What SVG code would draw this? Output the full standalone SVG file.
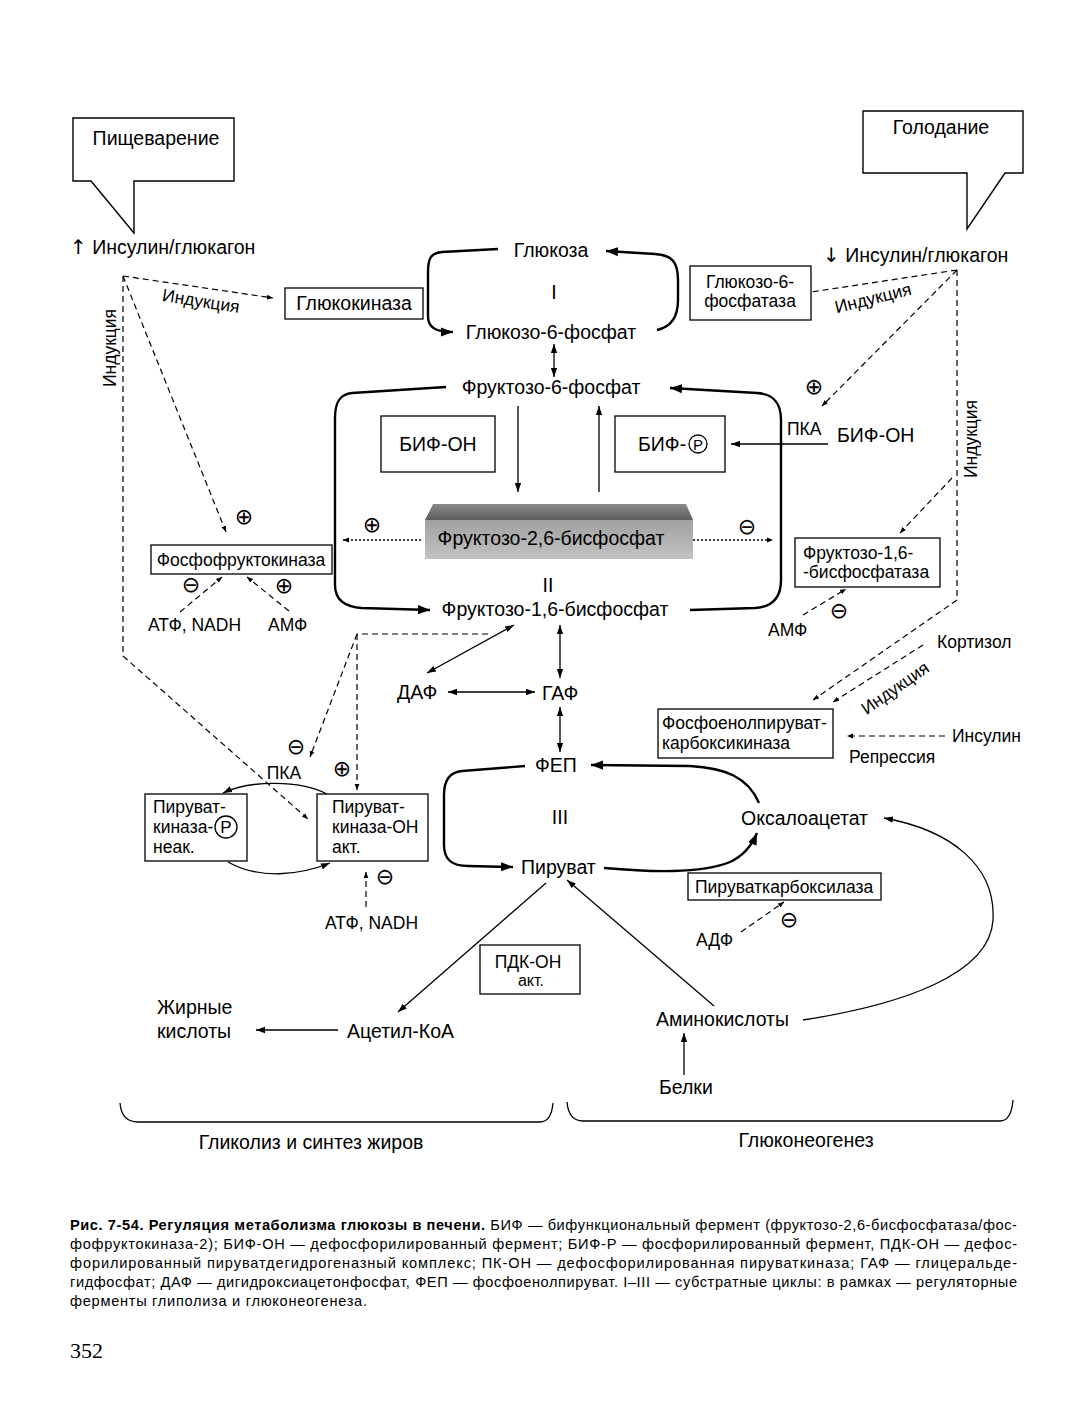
<svg xmlns="http://www.w3.org/2000/svg" width="1077" height="1421" viewBox="0 0 1077 1421">
<defs>
<style>
text{font-family:"Liberation Sans",Arial,"DejaVu Sans",sans-serif;fill:#000}
.m{font-size:19.5px}
.s{font-size:17.5px}
.c{font-size:14.6px}
.sym{font-family:"DejaVu Sans",sans-serif;font-size:22px;text-anchor:middle;dominant-baseline:central}
.mid{text-anchor:middle}
.box{fill:#fff;stroke:#000;stroke-width:1.3}
.call{fill:#fff;stroke:#000;stroke-width:1.4}
.thick{fill:none;stroke:#000;stroke-width:2.4}
.thin{fill:none;stroke:#000;stroke-width:1.3}
.dash{fill:none;stroke:#000;stroke-width:1.2;stroke-dasharray:6 4}
.dot{fill:none;stroke:#000;stroke-width:1.3;stroke-dasharray:2 2}
</style>
<marker id="ah" viewBox="0 0 10 10" refX="10" refY="5" markerWidth="9" markerHeight="9" markerUnits="userSpaceOnUse" orient="auto-start-reverse"><path d="M0,1.5 L10,5 L0,8.5 z"/></marker>
<marker id="at" viewBox="0 0 10 10" refX="10" refY="5" markerWidth="12" markerHeight="12" markerUnits="userSpaceOnUse" orient="auto-start-reverse"><path d="M0,1.2 L10,5 L0,8.8 z"/></marker>
<marker id="as" viewBox="0 0 10 10" refX="10" refY="5" markerWidth="6" markerHeight="6" markerUnits="userSpaceOnUse" orient="auto-start-reverse"><path d="M0,1 L10,5 L0,9 z"/></marker>
<linearGradient id="gtop" x1="0" y1="0" x2="0" y2="1"><stop offset="0" stop-color="#8a8a8a"/><stop offset="1" stop-color="#5e5e5e"/></linearGradient>
<linearGradient id="gbot" x1="0" y1="0" x2="0" y2="1"><stop offset="0" stop-color="#a0a0a0"/><stop offset="1" stop-color="#c2c2c2"/></linearGradient>
</defs>
<rect width="1077" height="1421" fill="#fff"/>

<g id="connectors">
<path class="thick" marker-end="url(#at)" d="M498,249 L442,252 C431,253 428,258 428,272 L428,316 C428,328 436,332 453,332"/>
<path class="thick" marker-end="url(#at)" d="M657,330 C671,327 678,317 678,300 L678,280 C678,262 672,255 655,254 L606,251"/>
<path class="thick" marker-end="url(#at)" d="M446,387 L352,393 C340,394 335,402 335,418 L335,585 C335,600 345,607 362,608 L430,610"/>
<path class="thick" marker-end="url(#at)" d="M690,610 L755,608 C772,607 781,598 781,580 L781,420 C781,402 773,394 757,393 L670,388"/>
<path class="thick" marker-end="url(#at)" d="M525,766 L462,771 C450,772 444,780 444,795 L444,845 C444,860 452,866 468,866 L513,867"/>
<path class="thick" marker-end="url(#at)" d="M604,868 C650,872 700,874 730,862 C745,855 752,845 757,833"/>
<path class="thick" marker-end="url(#at)" d="M759,803 C748,777 725,768 690,766 L591,765"/>
<path class="thin" marker-start="url(#ah)" marker-end="url(#ah)" d="M554,344 L554,377"/>
<path class="thin" marker-end="url(#ah)" d="M518,406 L518,492"/>
<path class="thin" marker-end="url(#ah)" d="M599,492 L599,406"/>
<path class="thin" marker-end="url(#ah)" d="M828,444 L731,444"/>
<path class="thin" marker-start="url(#ah)" marker-end="url(#ah)" d="M514,625 L427,673"/>
<path class="thin" marker-start="url(#ah)" marker-end="url(#ah)" d="M560,625 L560,678"/>
<path class="thin" marker-start="url(#ah)" marker-end="url(#ah)" d="M448,692 L535,692"/>
<path class="thin" marker-start="url(#ah)" marker-end="url(#ah)" d="M560,707 L560,752"/>
<path class="thin" marker-end="url(#ah)" d="M546,883 L398,1012"/>
<path class="thin" marker-end="url(#ah)" d="M714,1006 L567,880"/>
<path class="thin" marker-end="url(#ah)" d="M338,1030 L256,1030"/>
<path class="thin" marker-end="url(#ah)" d="M684,1075 L684,1033"/>
<path class="thin" marker-end="url(#ah)" d="M803,1020 C900,1005 990,975 993,920 C996,865 950,830 884,818"/>
<path class="thin" marker-end="url(#ah)" d="M327,794 C300,780 250,780 223,793"/>
<path class="thin" marker-end="url(#ah)" d="M228,862 C260,880 300,875 330,863"/>
<path class="dash" marker-end="url(#as)" d="M123,276 L273,298"/>
<path class="dash" marker-end="url(#as)" d="M123,276 L226,532"/>
<path class="dash" marker-end="url(#as)" d="M123,276 L123,656 L308,819"/>
<path class="dash" d="M957,270 L811,292"/>
<path class="dash" marker-end="url(#as)" d="M957,270 L822,406"/>
<path class="dash" marker-end="url(#as)" d="M957,270 L957,600 L813,700"/>
<path class="dash" marker-end="url(#as)" d="M952,478 L900,533"/>
<path class="dash" marker-end="url(#as)" d="M923,645 L833,702"/>
<path class="dash" marker-end="url(#as)" d="M945,736 L847,736"/>
<path class="dash" marker-end="url(#as)" d="M803,615 L846,589"/>
<path class="dash" marker-end="url(#as)" d="M180,612 L222,577"/>
<path class="dash" marker-end="url(#as)" d="M289,611 L247,577"/>
<path class="dash" d="M488,634 L357,634"/>
<path class="dash" marker-end="url(#as)" d="M357,634 L310,757"/>
<path class="dash" marker-end="url(#as)" d="M357,634 L357,790"/>
<path class="dash" marker-end="url(#as)" d="M366,907 L366,872"/>
<path class="dash" marker-end="url(#as)" d="M741,932 L784,902"/>
<path class="dot" marker-end="url(#as)" d="M421,540 L343,540"/>
<path class="dot" marker-end="url(#as)" d="M693,540 L773,540"/>
<path class="thin" d="M120,1103 C121,1115 126,1122 138,1122 L540,1122 C548,1122 552,1114 553,1103"/>
<path class="thin" d="M567,1102 C568,1113 573,1121 583,1121 L1000,1121 C1008,1121 1012,1112 1013,1100"/>
</g>

<g id="callout-digestion">
<path class="call" d="M73,118 L234,118 L234,181 L134,181 L134,233 L91,181 L73,181 Z"/>
<text class="m mid" x="156" y="145">Пищеварение</text>
</g>
<g id="callout-fasting">
<path class="call" d="M863,111 L1023,111 L1023,173 L1005,173 L967,229 L967,173 L863,173 Z"/>
<text class="m mid" x="941" y="134">Голодание</text>
</g>
<g id="insulin-up"><text class="m" x="70" y="254"><tspan style="font-family:'DejaVu Sans',sans-serif;font-size:20px">↑</tspan> Инсулин/глюкагон</text></g>
<g id="insulin-down"><text class="m" x="823" y="262"><tspan style="font-family:'DejaVu Sans',sans-serif;font-size:20px">↓</tspan> Инсулин/глюкагон</text></g>

<g id="glucose"><text class="m mid" x="551" y="257">Глюкоза</text></g>
<g id="cycle1"><text class="m mid" x="554" y="299">I</text></g>
<g id="g6p"><text class="m mid" x="551" y="339">Глюкозо-6-фосфат</text></g>
<g id="f6p"><text class="m mid" x="551" y="394">Фруктозо-6-фосфат</text></g>
<g id="glucokinase"><rect class="box" x="285" y="288" width="138" height="31"/><text class="m mid" x="354" y="310">Глюкокиназа</text></g>
<g id="g6pase"><rect class="box" x="690" y="266" width="121" height="54"/><text class="s mid" x="750" y="288">Глюкозо-6-</text><text class="s mid" x="750" y="307">фосфатаза</text></g>

<g id="bif-oh-box"><rect class="box" x="381" y="416" width="114" height="56"/><text class="m mid" x="438" y="451">БИФ-ОН</text></g>
<g id="bif-p-box"><rect class="box" x="615" y="416" width="110" height="56"/><text class="m" x="638" y="451">БИФ-</text><circle cx="698" cy="444" r="9" fill="none" stroke="#000" stroke-width="1.3"/><text class="mid" style="font-size:15px" x="698" y="449.5">P</text></g>

<g id="f26bp">
<rect x="425" y="519" width="268" height="40" fill="url(#gbot)"/>
<polygon points="433,504 686,504 693,520 425,520" fill="url(#gtop)"/>
<text class="m mid" x="551" y="545">Фруктозо-2,6-бисфосфат</text>
</g>
<g id="signs-f26"><text class="sym" x="372" y="524">⊕</text><text class="sym" x="747" y="526">⊖</text></g>
<g id="cycle2"><text class="m mid" x="548" y="592">II</text></g>
<g id="f16bp"><text class="m mid" x="555" y="616">Фруктозо-1,6-бисфосфат</text></g>

<g id="pka-bif"><text class="s" x="787" y="435">ПКА</text><text class="sym" x="814" y="386">⊕</text></g>
<g id="bif-oh"><text class="m" x="837" y="442">БИФ-ОН</text></g>
<g id="f16bpase"><rect class="box" x="795" y="538" width="145" height="49"/><text class="s" x="803" y="559">Фруктозо-1,6-</text><text class="s" x="803" y="578">-бисфосфатаза</text></g>
<g id="amp-right"><text class="s" x="768" y="636">АМФ</text><text class="sym" x="839" y="610">⊖</text></g>
<g id="cortisol"><text class="s" x="937" y="648">Кортизол</text></g>
<g id="pepck"><rect class="box" x="658" y="709" width="175" height="49"/><text class="s" x="662" y="729">Фосфоенолпируват-</text><text class="s" x="662" y="749">карбоксикиназа</text></g>
<g id="insulin"><text class="s" x="952" y="742">Инсулин</text><text class="s" x="849" y="763">Репрессия</text></g>

<g id="pfk"><rect class="box" x="151" y="545" width="181" height="29"/><text class="s mid" x="241" y="566">Фосфофруктокиназа</text></g>
<g id="signs-pfk"><text class="sym" x="244" y="516">⊕</text><text class="sym" x="191" y="584">⊖</text><text class="sym" x="284" y="585">⊕</text></g>
<g id="atp-nadh-1"><text class="s" x="148" y="631">АТФ, NADH</text></g>
<g id="amp-left"><text class="s" x="268" y="631">АМФ</text></g>

<g id="dhap"><text class="m" x="397" y="699">ДАФ</text></g>
<g id="gap"><text class="m" x="542" y="700">ГАФ</text></g>
<g id="pep"><text class="m" x="535" y="772">ФЕП</text></g>
<g id="cycle3"><text class="m mid" x="560" y="824">III</text></g>
<g id="pyruvate"><text class="m" x="521" y="874">Пируват</text></g>
<g id="oxaloacetate"><text class="m" x="741" y="825">Оксалоацетат</text></g>
<g id="pyr-carboxylase"><rect class="box" x="688" y="873" width="193" height="27"/><text class="s" x="695" y="893">Пируваткарбоксилаза</text></g>
<g id="adp"><text class="s" x="696" y="946">АДФ</text><text class="sym" x="789" y="919">⊖</text></g>

<g id="pk-p"><rect class="box" x="145" y="794" width="102" height="67"/><text class="s" x="153" y="813">Пируват-</text><text class="s" x="153" y="833">киназа-</text><circle cx="226" cy="827" r="11" fill="none" stroke="#000" stroke-width="1.3"/><text class="mid" style="font-size:17px" x="226" y="833">P</text><text class="s" x="153" y="853">неак.</text></g>
<g id="pk-oh"><rect class="box" x="317" y="794" width="111" height="67"/><text class="s" x="332" y="813">Пируват-</text><text class="s" x="332" y="833">киназа-ОН</text><text class="s" x="332" y="853">акт.</text></g>
<g id="pka-pk"><text class="s mid" x="284" y="779">ПКА</text><text class="sym" x="296" y="746">⊖</text><text class="sym" x="342" y="768">⊕</text><text class="sym" x="385" y="876">⊖</text></g>
<g id="atp-nadh-2"><text class="s" x="325" y="929">АТФ, NADH</text></g>
<g id="pdh"><rect class="box" x="480" y="945" width="100" height="49"/><text class="s mid" x="528" y="968">ПДК-ОН</text><text class="s mid" x="531" y="986" style="font-size:16px">акт.</text></g>

<g id="fatty-acids"><text class="m" x="157" y="1014">Жирные</text><text class="m" x="157" y="1038">кислоты</text></g>
<g id="acetyl-coa"><text class="m" x="347" y="1038">Ацетил-КоА</text></g>
<g id="amino-acids"><text class="m" x="656" y="1026">Аминокислоты</text></g>
<g id="proteins"><text class="m" x="659" y="1094">Белки</text></g>

<g id="labels-induction">
<text class="s mid" dominant-baseline="central" transform="translate(201,301) rotate(9)">Индукция</text>
<text class="s mid" dominant-baseline="central" transform="translate(110,348) rotate(-90)">Индукция</text>
<text class="s mid" dominant-baseline="central" transform="translate(873,298) rotate(-14)">Индукция</text>
<text class="s mid" dominant-baseline="central" transform="translate(971,439) rotate(-90)">Индукция</text>
<text class="s mid" dominant-baseline="central" transform="translate(895,688) rotate(-35)">Индукция</text>
</g>

<g id="section-labels">
<text class="m mid" x="311" y="1149">Гликолиз и синтез жиров</text>
<text class="m mid" x="806" y="1147">Глюконеогенез</text>
</g>

<g id="caption">
<text class="c" x="70" y="1230" textLength="947" lengthAdjust="spacing"><tspan font-weight="bold">Рис. 7-54. Регуляция метаболизма глюкозы в печени.</tspan> БИФ — бифункциональный фермент (фруктозо-2,6-бисфосфатаза/фос-</text>
<text class="c" x="70" y="1249" textLength="947" lengthAdjust="spacing">фофруктокиназа-2); БИФ-ОН — дефосфорилированный фермент; БИФ-Р — фосфорилированный фермент, ПДК-ОН — дефос-</text>
<text class="c" x="70" y="1268" textLength="947" lengthAdjust="spacing">форилированный пируватдегидрогеназный комплекс; ПК-ОН — дефосфорилированная пируваткиназа;  ГАФ — глицеральде-</text>
<text class="c" x="70" y="1287" textLength="947" lengthAdjust="spacing">гидфосфат; ДАФ — дигидроксиацетонфосфат, ФЕП — фосфоенолпируват. I–III — субстратные циклы: в рамках — регуляторные</text>
<text class="c" x="70" y="1306" textLength="297" lengthAdjust="spacing">ферменты глиполиза и глюконеогенеза.</text>
</g>
<g id="page-number"><text x="70" y="1358" style="font-family:'Liberation Serif','Times New Roman',serif;font-size:22px">352</text></g>
</svg>
